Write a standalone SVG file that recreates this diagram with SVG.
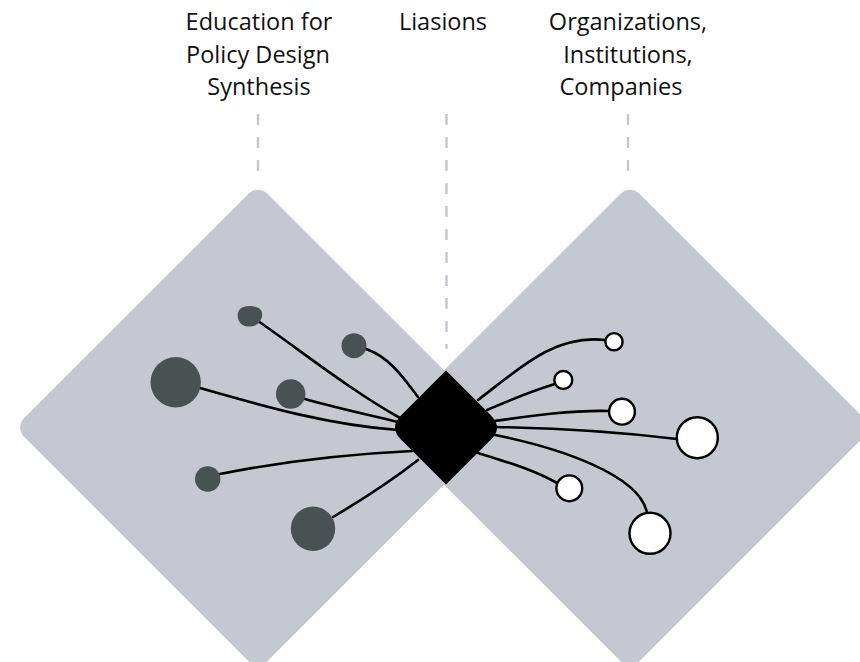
<svg xmlns="http://www.w3.org/2000/svg" width="860" height="662" viewBox="0 0 860 662">
<style>
.lbl{font-family:"Open Sans","Liberation Sans",sans-serif;font-size:23.5px;fill:#111;text-anchor:middle}
.dash{stroke:#c2c6cd;stroke-width:2.4;stroke-dasharray:11 12;fill:none}
.zone{fill:#c5c8ce}
.edge{stroke:#000;stroke-width:2.6;fill:none;stroke-linecap:round}
.dk{fill:#4a5153}
.wt{fill:#fff;stroke:#000;stroke-width:2.4}
</style>
<g id="labels">
<text class="lbl" x="259" y="29.5">Education for</text>
<text class="lbl" x="258" y="62.5">Policy Design</text>
<text class="lbl" x="259" y="95">Synthesis</text>
<text class="lbl" x="443" y="29.5">Liasions</text>
<text class="lbl" x="628" y="29.5">Organizations,</text>
<text class="lbl" x="628" y="62.5">Institutions,</text>
<text class="lbl" x="621" y="95">Companies</text>
</g>
<g id="guides">
<line class="dash" x1="258" y1="114" x2="258" y2="176"/>
<line class="dash" x1="446.5" y1="114" x2="446.5" y2="349"/>
<line class="dash" x1="628" y1="114" x2="628" y2="176"/>
</g>
<g id="zone-left">
<rect class="zone" x="86" y="255.5" width="344" height="344" rx="13" transform="rotate(45 258 427.5)"/>
</g>
<g id="zone-right">
<rect class="zone" x="458" y="255.5" width="344" height="344" rx="13" transform="rotate(45 630 427.5)"/>
</g>
<g id="connectors">
<path class="edge" d="M258,321 C300,350 350,390 400,418"/>
<path class="edge" d="M366,349 C390,357 405,380 418,397"/>
<path class="edge" d="M200,388 C270,408 330,425 398,430"/>
<path class="edge" d="M305,399 C340,409 370,415 398,422"/>
<path class="edge" d="M220,474 C290,460 350,454 412,451"/>
<path class="edge" d="M333,517 C365,498 395,478 418,460"/>
<path class="edge" d="M478,400 C520,368 555,334 605,340"/>
<path class="edge" d="M487,410 C510,400 535,390 555,384"/>
<path class="edge" d="M495,421 C530,416 570,410 609,411"/>
<path class="edge" d="M495,427 C560,428 620,432 677,439"/>
<path class="edge" d="M475,452 C500,460 530,468 557,483"/>
<path class="edge" d="M495,435 C560,448 640,475 647,513"/>
</g>
<g id="hub">
<path d="M446,370.5 L401,415.5 Q389,427.5 401,439.5 L446,484.5 L491,439.5 Q503,427.5 491,415.5 Z" fill="#000"/>
</g>
<g id="node-l1"><path class="dk" d="M240,309 C244,305 257,305 261,310 C264,315 261,322 256,325 C250,328 241,327 238.5,320 C237,316 237.5,312 240,309 Z"/></g>
<g id="node-l2"><circle class="dk" cx="354" cy="345.7" r="12.5"/></g>
<g id="node-l3"><circle class="dk" cx="175.7" cy="382.3" r="25.2"/></g>
<g id="node-l4"><circle class="dk" cx="290.7" cy="394" r="14.7"/></g>
<g id="node-l5"><circle class="dk" cx="207.7" cy="479" r="12.7"/></g>
<g id="node-l6"><circle class="dk" cx="313" cy="528.7" r="22.2"/></g>
<g id="node-r1"><circle class="wt" cx="614" cy="341.7" r="8.6"/></g>
<g id="node-r2"><circle class="wt" cx="563.3" cy="380" r="9"/></g>
<g id="node-r3"><circle class="wt" cx="622" cy="411.7" r="12.9"/></g>
<g id="node-r4"><circle class="wt" cx="697.3" cy="437.7" r="20.5"/></g>
<g id="node-r5"><circle class="wt" cx="569.3" cy="488.3" r="12.9"/></g>
<g id="node-r6"><circle class="wt" cx="650" cy="533.3" r="20.5"/></g>
</svg>
